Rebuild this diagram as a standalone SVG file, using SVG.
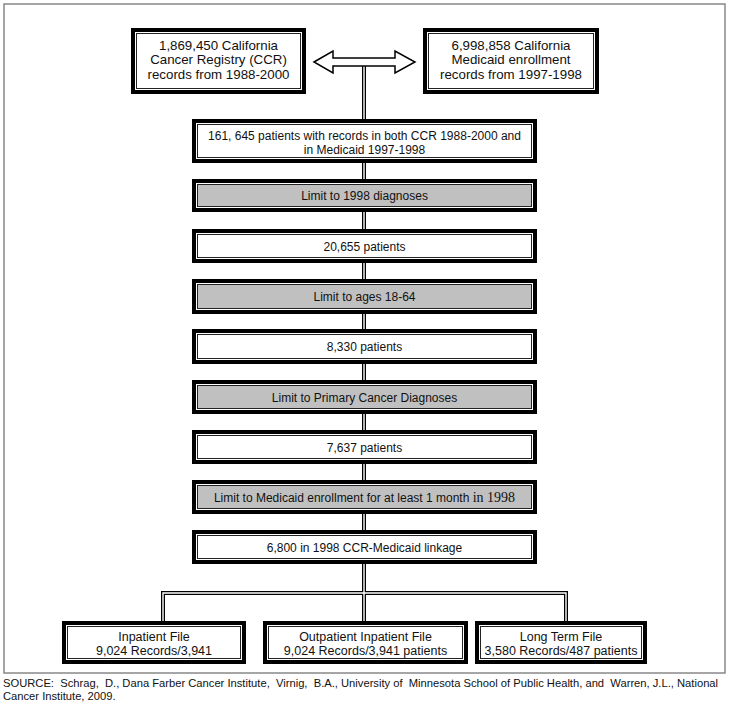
<svg xmlns="http://www.w3.org/2000/svg" width="729" height="714" viewBox="0 0 729 714">
<style>
  .t { font-family: "Liberation Sans", Arial, sans-serif; font-size: 12px; fill: #111; text-anchor: middle; }
  .tt { font-family: "Liberation Sans", Arial, sans-serif; font-size: 13.3px; fill: #111; text-anchor: middle; }
  .tb { font-family: "Liberation Sans", Arial, sans-serif; font-size: 12.5px; fill: #111; text-anchor: middle; }
  .src { font-family: "Liberation Sans", Arial, sans-serif; font-size: 11.2px; fill: #111; }
  .ob { fill: #fff; stroke: #000; stroke-width: 4; }
  .ib { fill: #fff; stroke: #222; stroke-width: 1; }
  .ig { fill: #c0c0c0; stroke: #222; stroke-width: 1; }
  .cb { fill: none; stroke: #000; stroke-width: 4; }
  .cw { fill: none; stroke: #fff; stroke-width: 1.4; }
</style>
<rect x="4" y="4" width="721" height="669" fill="#fff" stroke="#888" stroke-width="1.5"/>
<g id="connectors">
  <path class="cb" d="M364 66 V621 M163 621 V593 H566 V621"/>
  <path class="cw" d="M364 66 V621 M163 621 V593 H566 V621"/>
  <path d="M314 62 L333 51 L333 58 L395 58 L395 51 L415 62 L395 73 L395 66 L333 66 L333 73 Z" fill="#fff" stroke="#000" stroke-width="1.5" stroke-linejoin="miter"/>
</g>
<g id="ccr">
  <rect class="ob" x="133" y="30" width="171" height="62"/>
  <rect class="ib" x="136.5" y="33.5" width="164" height="55"/>
  <text class="tt" x="218.5" y="49.5">1,869,450 California</text>
  <text class="tt" x="218.5" y="64">Cancer Registry (CCR)</text>
  <text class="tt" x="218.5" y="78.5">records from 1988-2000</text>
</g>
<g id="medicaid">
  <rect class="ob" x="425" y="30" width="172" height="62"/>
  <rect class="ib" x="428.5" y="33.5" width="165" height="55"/>
  <text class="tt" x="511" y="49.5">6,998,858 California</text>
  <text class="tt" x="511" y="64">Medicaid enrollment</text>
  <text class="tt" x="511" y="78.5">records from 1997-1998</text>
</g>
<g id="both">
  <rect class="ob" x="194" y="121" width="341" height="40"/>
  <rect class="ib" x="197.5" y="124.5" width="334" height="33"/>
  <text class="t" x="364.5" y="139.5">161, 645 patients with records in both CCR 1988-2000 and</text>
  <text class="t" x="364.5" y="153.5">in Medicaid 1997-1998</text>
</g>
<g id="limit1998">
  <rect class="ob" x="194" y="181" width="341" height="29"/>
  <rect class="ig" x="197.5" y="184.5" width="334" height="22"/>
  <text class="t" x="364.5" y="200">Limit to 1998 diagnoses</text>
</g>
<g id="p20655">
  <rect class="ob" x="194" y="231" width="341" height="30"/>
  <rect class="ib" x="197.5" y="234.5" width="334" height="23"/>
  <text class="t" x="364.5" y="250.5">20,655 patients</text>
</g>
<g id="limitAges">
  <rect class="ob" x="194" y="281" width="341" height="31"/>
  <rect class="ig" x="197.5" y="284.5" width="334" height="24"/>
  <text class="t" x="364.5" y="301">Limit to ages 18-64</text>
</g>
<g id="p8330">
  <rect class="ob" x="194" y="331" width="341" height="31"/>
  <rect class="ib" x="197.5" y="334.5" width="334" height="24"/>
  <text class="t" x="364.5" y="351">8,330 patients</text>
</g>
<g id="limitPrimary">
  <rect class="ob" x="194" y="382" width="341" height="30"/>
  <rect class="ig" x="197.5" y="385.5" width="334" height="23"/>
  <text class="t" x="364.5" y="401.5">Limit to Primary Cancer Diagnoses</text>
</g>
<g id="p7637">
  <rect class="ob" x="194" y="432" width="341" height="30"/>
  <rect class="ib" x="197.5" y="435.5" width="334" height="23"/>
  <text class="t" x="364.5" y="451.5">7,637 patients</text>
</g>
<g id="limitEnroll">
  <rect class="ob" x="194" y="482" width="341" height="30"/>
  <rect class="ig" x="197.5" y="485.5" width="334" height="23"/>
  <text class="t" x="364.5" y="501.5">Limit to Medicaid enrollment for at least 1 month <tspan font-family="'Liberation Serif', 'Times New Roman', serif" font-size="14">in 1998</tspan></text>
</g>
<g id="linkage">
  <rect class="ob" x="194" y="532" width="341" height="30"/>
  <rect class="ib" x="197.5" y="535.5" width="334" height="23"/>
  <text class="t" x="364.5" y="551.5">6,800 in 1998 CCR-Medicaid linkage</text>
</g>
<g id="inpatient">
  <rect class="ob" x="64" y="623" width="180" height="39"/>
  <rect class="ib" x="67.5" y="626.5" width="173" height="32"/>
  <text class="tb" x="154" y="640.5">Inpatient File</text>
  <text class="tb" x="154" y="654.5">9,024 Records/3,941</text>
</g>
<g id="outpatient">
  <rect class="ob" x="265" y="623" width="201" height="39"/>
  <rect class="ib" x="268.5" y="626.5" width="194" height="32"/>
  <text class="tb" x="365.5" y="640.5">Outpatient Inpatient File</text>
  <text class="tb" x="365.5" y="654.5">9,024 Records/3,941 patients</text>
</g>
<g id="longterm">
  <rect class="ob" x="477" y="623" width="168" height="39"/>
  <rect class="ib" x="480.5" y="626.5" width="161" height="32"/>
  <text class="tb" x="561" y="640.5">Long Term File</text>
  <text class="tb" x="561" y="654.5">3,580 Records/487 patients</text>
</g>
<text class="src" x="3" y="687" xml:space="preserve">SOURCE:  Schrag,  D., Dana Farber Cancer Institute,  Virnig,  B.A., University of  Minnesota School of Public Health, and  Warren, J.L., National</text>
<text class="src" x="3" y="700">Cancer Institute, 2009.</text>
</svg>
